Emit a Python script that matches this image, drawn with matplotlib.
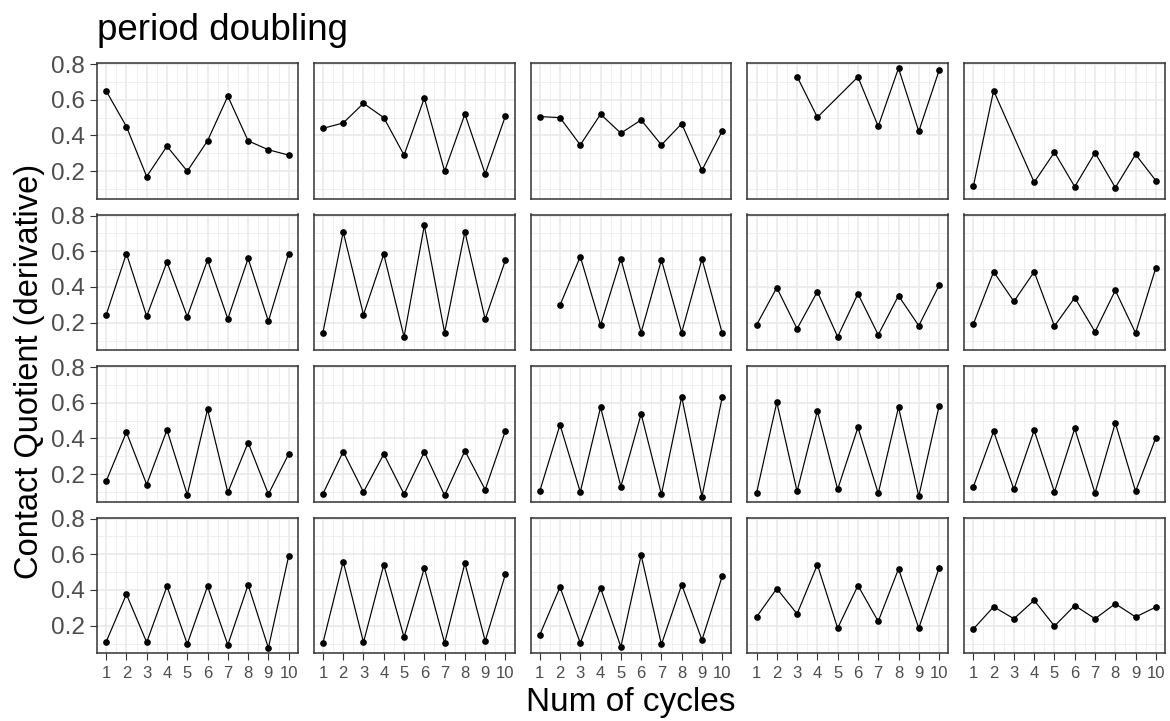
import numpy as np
import matplotlib
matplotlib.use("Agg")
import matplotlib.pyplot as plt

plt.rcParams['font.family'] = ['Liberation Sans', 'DejaVu Sans']

nan = np.nan
cycles = list(range(1, 11))

# contact quotient per recording, read left-to-right, top-to-bottom
panel_01 = [0.65, 0.45, 0.17, 0.34, 0.20, 0.37, 0.62, 0.37, 0.32, 0.29]
panel_02 = [0.44, 0.47, 0.58, 0.50, 0.29, 0.61, 0.20, 0.52, 0.185, 0.51]
panel_03 = [0.506, 0.50, 0.347, 0.519, 0.413, 0.487, 0.347, 0.466, 0.206, 0.426]
panel_04 = [nan, nan, 0.73, 0.502, nan, 0.728, 0.451, 0.777, 0.423, 0.764]
panel_05 = [0.115, 0.651, nan, 0.138, 0.306, 0.113, 0.304, 0.108, 0.294, 0.147]
panel_06 = [0.243, 0.587, 0.236, 0.540, 0.234, 0.551, 0.221, 0.560, 0.208, 0.587]
panel_07 = [0.145, 0.708, 0.245, 0.583, 0.121, 0.745, 0.145, 0.709, 0.219, 0.551]
panel_08 = [nan, 0.298, 0.570, 0.187, 0.557, 0.145, 0.551, 0.145, 0.557, 0.140]
panel_09 = [0.187, 0.396, 0.166, 0.374, 0.121, 0.362, 0.132, 0.351, 0.183, 0.409]
panel_10 = [0.192, 0.485, 0.319, 0.485, 0.181, 0.340, 0.149, 0.381, 0.142, 0.508]
panel_11 = [0.160, 0.435, 0.142, 0.448, 0.085, 0.563, 0.098, 0.377, 0.088, 0.313]
panel_12 = [0.090, 0.327, 0.100, 0.313, 0.088, 0.325, 0.081, 0.331, 0.113, 0.444]
panel_13 = [0.104, 0.477, 0.100, 0.575, 0.131, 0.537, 0.087, 0.633, 0.075, 0.633]
panel_14 = [0.094, 0.602, 0.104, 0.554, 0.115, 0.462, 0.092, 0.575, 0.077, 0.581]
panel_15 = [0.129, 0.440, 0.115, 0.446, 0.100, 0.456, 0.094, 0.487, 0.104, 0.404]
panel_16 = [0.109, 0.376, 0.107, 0.421, 0.097, 0.421, 0.092, 0.429, 0.075, 0.590]
panel_17 = [0.103, 0.559, 0.107, 0.541, 0.135, 0.523, 0.103, 0.550, 0.114, 0.489]
panel_18 = [0.148, 0.416, 0.103, 0.410, 0.082, 0.595, 0.095, 0.429, 0.120, 0.478]
panel_19 = [0.249, 0.408, 0.266, 0.542, 0.186, 0.425, 0.224, 0.518, 0.186, 0.523]
panel_20 = [0.181, 0.306, 0.239, 0.342, 0.198, 0.313, 0.239, 0.323, 0.249, 0.304]

panels = [panel_01, panel_02, panel_03, panel_04, panel_05,
          panel_06, panel_07, panel_08, panel_09, panel_10,
          panel_11, panel_12, panel_13, panel_14, panel_15,
          panel_16, panel_17, panel_18, panel_19, panel_20]

y_ticks = [0.2, 0.4, 0.6, 0.8]
y_tick_labels = ["0.2", "0.4", "0.6", "0.8"]

W, H = 1170, 721
fig = plt.figure(figsize=(W / 100, H / 100), dpi=100)

nrow, ncol = 4, 5
left0, top0 = 97, 63
pw, ph = 200.8, 135.5
gap = 16

for i, vals in enumerate(panels):
    r, c = divmod(i, ncol)
    x0 = left0 + c * (pw + gap)
    y0 = top0 + r * (ph + gap)
    ax = fig.add_axes([x0 / W, 1 - (y0 + ph) / H, pw / W, ph / H])

    x = np.array(cycles, dtype=float)
    y = np.array(vals, dtype=float)
    ok = ~np.isnan(y)
    ax.plot(x[ok], y[ok], color="black", lw=0.85, zorder=3)
    ax.plot(x[ok], y[ok], "o", color="black", ms=3.8, zorder=4)

    ax.set_xlim(0.55, 10.45)
    ax.set_ylim(0.047, 0.806)
    ax.set_xticks(cycles)
    ax.set_xticks(np.arange(1.5, 10, 1), minor=True)
    ax.set_yticks(y_ticks)
    ax.set_yticks([0.1, 0.3, 0.5, 0.7], minor=True)
    ax.grid(which="major", color="#E8E8E8", lw=1.1, zorder=0)
    ax.grid(which="minor", color="#EBEBEB", lw=0.55, zorder=0)
    ax.set_axisbelow(True)
    for s in ax.spines.values():
        s.set_color("#333333")
        s.set_linewidth(1.1)
        s.set_zorder(5)

    ax.tick_params(which="minor", length=0)
    ax.tick_params(which="major", color="#333333", width=0.8, length=5)
    if c == 0:
        ax.set_yticklabels(y_tick_labels)
        ax.tick_params(axis="y", labelsize=17.5, labelcolor="#4D4D4D", pad=4)
    else:
        ax.tick_params(axis="y", length=0, labelleft=False)
    if r == nrow - 1:
        ax.set_xticklabels([str(v) for v in cycles])
        ax.tick_params(axis="x", labelsize=12, labelcolor="#4D4D4D", pad=4)
    else:
        ax.tick_params(axis="x", length=0, labelbottom=False)

fig.text(97 / W, 1 - 30 / H, "period doubling", fontsize=26.5, va="center", ha="left")
fig.text(30 / W, 1 - 371 / H, "Contact Quotient (derivative)", fontsize=23.5,
         rotation=90, va="center", ha="center")
fig.text((97 + 1165) / 2 / W, 1 - 703 / H, "Num of cycles", fontsize=24,
         va="center", ha="center")

fig.savefig("out.png", dpi=100)
